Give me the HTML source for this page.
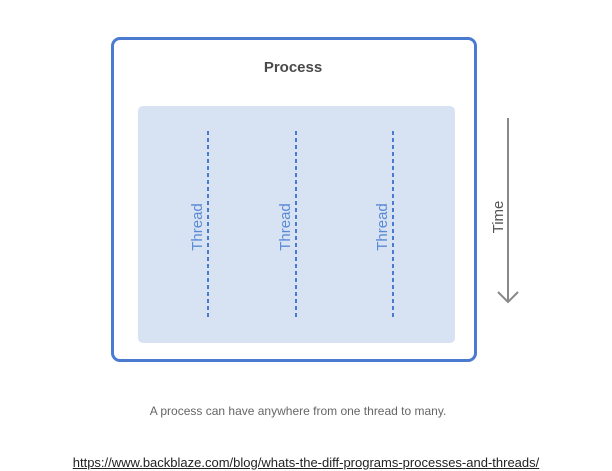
<!DOCTYPE html>
<html><head><style>
body{margin:0;width:612px;height:471px;background:#fff;position:relative;overflow:hidden;font-family:"Liberation Sans",sans-serif}
.a{position:absolute}
</style></head><body>
<div class="a" style="left:111px;top:37px;width:360px;height:319px;border:3px solid #4a7bd0;border-radius:9px"></div>
<div class="a" style="left:138px;top:106px;width:317px;height:237px;background:#d7e3f2;border-radius:5px"></div>
<div class="a" style="left:193px;top:59px;width:200px;text-align:center;font-size:15px;font-weight:bold;color:#4a4a4a">Process</div>
<svg class="a" style="left:0;top:0" width="612" height="471">
<g stroke="#4a7bd0" stroke-width="2" stroke-dasharray="4,3">
<line x1="208" y1="131" x2="208" y2="320"/>
<line x1="296" y1="131" x2="296" y2="320"/>
<line x1="393" y1="131" x2="393" y2="320"/>
</g>
<g fill="#5a8ad6" font-family="Liberation Sans" font-size="15" text-anchor="middle">
<text transform="translate(202,227) rotate(-90)">Thread</text>
<text transform="translate(290,227) rotate(-90)">Thread</text>
<text transform="translate(387,227) rotate(-90)">Thread</text>
</g>
<text transform="translate(503,217) rotate(-90)" fill="#555" font-family="Liberation Sans" font-size="15" text-anchor="middle">Time</text>
<g stroke="#888" stroke-width="2" fill="none">
<line x1="508" y1="118" x2="508" y2="302"/>
<polyline points="498,292 508,302 518,292"/>
</g>
</svg>
<div class="a" style="left:100px;top:404px;width:396px;text-align:center;font-size:12px;color:#666">A process can have anywhere from one thread to many.</div>
<div class="a" style="left:40px;top:455px;width:532px;text-align:center;font-size:13px;color:#222;text-decoration:underline">https://www.backblaze.com/blog/whats-the-diff-programs-processes-and-threads/</div>
</body></html>
